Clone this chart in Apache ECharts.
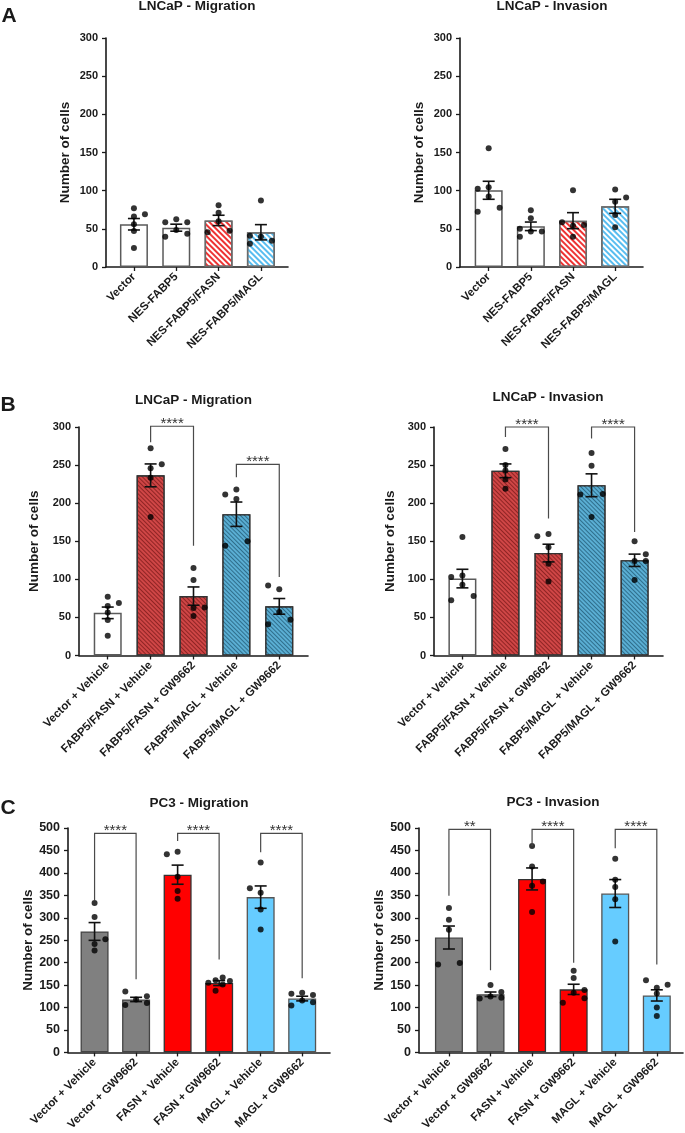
<!DOCTYPE html>
<html><head><meta charset="utf-8">
<script src="https://cdn.jsdelivr.net/npm/echarts@6/dist/echarts.min.js"></script>
<style>html,body{margin:0;padding:0;background:#fff}#c{width:685px;height:1133px}</style>
</head><body><div id="c"></div>
<script>
// ---------------- DATA ----------------
const A_cats = ['Vector', 'NES-FABP5', 'NES-FABP5/FASN', 'NES-FABP5/MAGL'];
const A_mig_mean = [56, 51.5, 61, 45.5];
const A_mig_sem = [7.5, 4.6, 6.8, 10];
const A_mig_points = [[77, 69, 66, 56, 47, 25], [58.5, 62.5, 58.5, 48.5, 39.5, 43.5], [81, 71, 60, 45.5, 47.5], [87, 41, 39.5, 30.5, 34.5]];
const A_inv_mean = [100.5, 53.3, 60.7, 79.5];
const A_inv_sem = [11.8, 5.6, 10.5, 9.2];
const A_inv_points = [[155.5, 102.5, 104.5, 92.5, 77.5, 72.5], [74.5, 64, 50, 46.5, 46.5, 39.5], [100.5, 58.5, 54, 55, 39.5], [101.5, 91, 85.5, 68, 52]];

const B_cats = ['Vector + Vehicle', 'FABP5/FASN + Vehicle', 'FABP5/FASN + GW9662', 'FABP5/MAGL + Vehicle', 'FABP5/MAGL + GW9662'];
const B_mig_mean = [56, 236.5, 78, 185.5, 64.5];
const B_mig_sem = [7.6, 15, 12, 16, 10.3];
const B_mig_points = [[77, 69, 65, 56.5, 46.5, 26], [272, 251, 246, 233.5, 182], [115, 99, 62.5, 63, 52], [211.5, 218, 205.5, 144, 150], [92, 87, 57, 41, 47]];
const B_inv_mean = [101, 242.5, 134.5, 223.5, 125];
const B_inv_sem = [12.2, 9, 11.6, 15, 8.1];
const B_inv_points = [[155.5, 103, 105, 93, 78, 72.5], [271, 250, 243, 231, 219], [156.5, 159.5, 142, 120.5, 97], [266, 249, 211.5, 212, 182], [150, 133, 124, 124, 99]];

const C_cats = ['Vector + Vehicle', 'Vector + GW9662', 'FASN + Vehicle', 'FASN + GW9662', 'MAGL + Vehicle', 'MAGL + GW9662'];
const C_mig_mean = [269.5, 118, 396, 154.5, 346, 120];
const C_mig_sem = [19.8, 4.8, 21.3, 5.5, 24.9, 5.2];
const C_mig_points = [[333, 301.5, 252, 241.5, 227], [136, 118, 125, 105.5, 110], [441.5, 447, 391.5, 359.5, 342.5], [155, 161, 167, 159, 151.5, 137.5], [423, 366, 356, 318.5, 274], [130.5, 133, 128, 115.5, 104.5, 112]];
const C_inv_mean = [256, 129.5, 386.5, 140.5, 354, 127];
const C_inv_sem = [25.6, 5.1, 24.5, 11.4, 31.1, 12.5];
const C_inv_points = [[321.5, 295.5, 273.5, 196, 199.5], [150, 134.5, 120, 124.5, 122], [460, 414.5, 381, 371.5, 313], [182, 166, 139, 133, 110.5, 120.5], [431.5, 384.5, 368.5, 341.5, 247], [161, 150.5, 144, 131, 100, 81]];

// significance brackets: [fromIndex, toIndex, bracketTop, leftLegEnd, rightLegEnd]
const B_mig_sig = [[1, 2, 301, 280, 144], [3, 4, 251, 234, 103]];
const B_mig_sigLabels = ['****', '****'];
const B_inv_sig = [[1, 2, 300, 287, 180], [3, 4, 300, 285, 162]];
const B_inv_sigLabels = ['****', '****'];
const C_mig_sig = [[0, 1, 488, 339, 163], [2, 3, 488, 471, 207], [4, 5, 488, 446, 165]];
const C_mig_sigLabels = ['****', '****', '****'];
const C_inv_sig = [[0, 1, 497, 349, 183], [2, 3, 497, 460, 200], [4, 5, 497, 455, 196]];
const C_inv_sigLabels = ['**', '****', '****'];

// ---------------- LAYOUT / STYLE ----------------
// horizontal scatter spread of dots (in dot-slot units)
const A_mig_spread = [[0, 1, 0, 0, 0, 0], [-1, 0, 1, 0, -1, 1], [0, 0, 0, -1, 1], [0, -1, 0, -1, 1]];
const A_inv_spread = [[0, -1, 0, 0, 1, -1], [0, 0, -1, 0, 1, -1], [0, -1, 0, 1, 0], [0, 1, 0, 0, 0]];
const B_mig_spread = [[0, 1, 0, 0, 0, 0], [0, 1, 0, 0, 0], [0, 0, 0, 1, 0], [-1, 0, 0, -1, 1], [-1, 0, 0, -1, 1]];
const B_inv_spread = [[0, -1, 0, 0, 1, -1], [0, 0, 0, 0, 0], [-1, 0, 0, 0, 0], [0, 0, -1, 1, 0], [0, 1, 0, 1, 0]];
const C_mig_spread = [[0, 0, 1, 0, 0], [-1, 0, 1, -1, 1], [-1, 0, 0, 0, 0], [-1, -0.33, 0.33, 1, 0.33, -0.33], [0, -1, 0, 0, 0], [-1, 0, 1, 0, -1, 1]];
const C_inv_spread = [[0, 0, 0, -1, 1], [0, 1, -1, 0, 1], [0, 0, 1, 0, 0], [0, 0, 1, 0, -1, 1], [0, 0, 0, 0, 0], [-1, 1, 0, 0, 0, 0]];

const FONT = '"Liberation Sans", Arial, Helvetica, sans-serif';
const INK = '#1a1a1a';
const STY = {
  white: { color: '#ffffff', borderColor: '#5a5a5a', borderWidth: 1.5 },
  hatchRed: { color: '#ffffff', borderColor: '#6a6a6a', borderWidth: 1.5,
    decal: { symbol: 'rect', symbolSize: 1, symbolKeepAspect: false, color: '#ee3434', dashArrayX: [1, 0], dashArrayY: [2, 2], rotation: Math.PI / 4 } },
  hatchBlue: { color: '#ffffff', borderColor: '#6a6a6a', borderWidth: 1.5,
    decal: { symbol: 'rect', symbolSize: 1, symbolKeepAspect: false, color: '#58bdf0', dashArrayX: [1, 0], dashArrayY: [2, 2], rotation: Math.PI / 4 } },
  darkRed: { color: '#8f2424', borderColor: '#333333', borderWidth: 1.3,
    decal: { symbol: 'rect', symbolSize: 1, symbolKeepAspect: false, color: '#cf4646', dashArrayX: [1, 0], dashArrayY: [2, 1], rotation: Math.PI / 4 } },
  darkBlue: { color: '#2f6e8c', borderColor: '#333333', borderWidth: 1.3,
    decal: { symbol: 'rect', symbolSize: 1, symbolKeepAspect: false, color: '#5aaed3', dashArrayX: [1, 0], dashArrayY: [2, 1], rotation: Math.PI / 4 } },
  gray: { color: '#808080', borderColor: '#444444', borderWidth: 1.3 },
  red: { color: '#ff0000', borderColor: '#333333', borderWidth: 1.3 },
  sky: { color: '#66ccff', borderColor: '#555555', borderWidth: 1.3 }
};
const A_fill = ['white', 'white', 'hatchRed', 'hatchBlue'];
const B_fill = ['white', 'darkRed', 'darkRed', 'darkBlue', 'darkBlue'];
const C_fill = ['gray', 'gray', 'red', 'red', 'sky', 'sky'];

const panels = [
  { title: 'LNCaP - Migration', cats: A_cats, mean: A_mig_mean, sem: A_mig_sem, pts: A_mig_points, spread: A_mig_spread, fill: A_fill,
    sig: [], sigLab: [], grid: { left: 106, top: 38, width: 182, height: 229 }, xr: [-0.66, 3.64], ymax: 300, yfs: 11, gap: 34, tx: 197, ty: 6 },
  { title: 'LNCaP - Invasion', cats: A_cats, mean: A_inv_mean, sem: A_inv_sem, pts: A_inv_points, spread: A_inv_spread, fill: A_fill,
    sig: [], sigLab: [], grid: { left: 460, top: 38, width: 183, height: 229 }, xr: [-0.68, 3.66], ymax: 300, yfs: 11, gap: 34, tx: 552, ty: 6 },
  { title: 'LNCaP - Migration', cats: B_cats, mean: B_mig_mean, sem: B_mig_sem, pts: B_mig_points, spread: B_mig_spread, fill: B_fill,
    sig: B_mig_sig, sigLab: B_mig_sigLabels, grid: { left: 79, top: 427, width: 229, height: 228.5 }, xr: [-0.67, 4.67], ymax: 300, yfs: 11, gap: 38, tx: 193.5, ty: 400 },
  { title: 'LNCaP - Invasion', cats: B_cats, mean: B_inv_mean, sem: B_inv_sem, pts: B_inv_points, spread: B_inv_spread, fill: B_fill,
    sig: B_inv_sig, sigLab: B_inv_sigLabels, grid: { left: 434, top: 427, width: 229, height: 228.5 }, xr: [-0.66, 4.66], ymax: 300, yfs: 11, gap: 37, tx: 548, ty: 397 },
  { title: 'PC3 - Migration', cats: C_cats, mean: C_mig_mean, sem: C_mig_sem, pts: C_mig_points, spread: C_mig_spread, fill: C_fill,
    sig: C_mig_sig, sigLab: C_mig_sigLabels, grid: { left: 68, top: 828, width: 262, height: 228 }, xr: [-0.64, 5.67], ymax: 500, yfs: 12.5, gap: 33, tx: 199, ty: 803 },
  { title: 'PC3 - Invasion', cats: C_cats, mean: C_inv_mean, sem: C_inv_sem, pts: C_inv_points, spread: C_inv_spread, fill: C_fill,
    sig: C_inv_sig, sigLab: C_inv_sigLabels, grid: { left: 419, top: 828, width: 264, height: 228 }, xr: [-0.72, 5.63], ymax: 500, yfs: 12.5, gap: 30, tx: 553, ty: 802 }
];

const SLOT = 0.26;   // dot slot width in category units
const CAP = 6;       // error-bar cap half width, px

const option = {
  animation: false,
  backgroundColor: '#ffffff',
  grid: [], xAxis: [], yAxis: [], series: [],
  graphic: []
};

panels.forEach((p, gi) => {
  option.grid.push(Object.assign({ containLabel: false }, p.grid));
  const idx = p.cats.map((_, i) => i);
  option.xAxis.push({
    type: 'value', gridIndex: gi, min: p.xr[0], max: p.xr[1],
    splitLine: { show: false },
    axisLine: { show: true, onZero: false, lineStyle: { color: INK, width: 1.6 } },
    axisTick: { show: true, customValues: idx, length: 4, lineStyle: { color: INK, width: 1.3 } },
    axisLabel: { show: true, customValues: idx, rotate: 45, margin: 8, formatter: v => p.cats[Math.round(v)] || '',
      fontFamily: FONT, fontSize: 11.5, fontWeight: 'bold', color: INK }
  });
  option.yAxis.push({
    type: 'value', gridIndex: gi, min: 0, max: p.ymax, interval: 50,
    splitLine: { show: false },
    axisLine: { show: true, onZero: false, lineStyle: { color: INK, width: 1.6 } },
    axisTick: { show: true, length: 4, lineStyle: { color: INK, width: 1.3 } },
    axisLabel: { margin: 8, fontFamily: FONT, fontSize: p.yfs, fontWeight: 'bold', color: INK },
    name: 'Number of cells', nameLocation: 'middle', nameGap: p.gap,
    nameTextStyle: { fontFamily: FONT, fontSize: 13.5, fontWeight: 'bold', color: INK }
  });
  // bars
  option.series.push({
    type: 'bar', xAxisIndex: gi, yAxisIndex: gi, barWidth: 28,
    data: p.mean.map((m, i) => ({ value: [i, m], itemStyle: STY[p.fill[i]] })),
    z: 2
  });
  // error bars
  option.series.push({
    type: 'custom', xAxisIndex: gi, yAxisIndex: gi, z: 3,
    data: p.mean.map((m, i) => [i, m, p.sem[i]]),
    encode: { x: 0, y: 1 },
    renderItem: (params, api) => {
      const x = api.value(0), m = api.value(1), s = api.value(2);
      const hi = api.coord([x, m + s]), lo = api.coord([x, m - s]);
      const st = { stroke: '#111', lineWidth: 1.6 };
      return { type: 'group', children: [
        { type: 'line', shape: { x1: hi[0], y1: hi[1], x2: lo[0], y2: lo[1] }, style: st },
        { type: 'line', shape: { x1: hi[0] - CAP, y1: hi[1], x2: hi[0] + CAP, y2: hi[1] }, style: st },
        { type: 'line', shape: { x1: lo[0] - CAP, y1: lo[1], x2: lo[0] + CAP, y2: lo[1] }, style: st }
      ] };
    }
  });
  // dots
  const dots = [];
  p.pts.forEach((arr, i) => arr.forEach((v, j) => dots.push([i + p.spread[i][j] * SLOT, v])));
  option.series.push({
    type: 'scatter', xAxisIndex: gi, yAxisIndex: gi, z: 4, symbol: 'circle', symbolSize: 6,
    itemStyle: { color: '#000' }, data: dots
  });
  // significance brackets
  if (p.sig.length) {
    option.series.push({
      type: 'custom', xAxisIndex: gi, yAxisIndex: gi, z: 5, clip: false,
      data: p.sig, encode: { x: [0, 1], y: [2, 3, 4] },
      renderItem: (params, api) => {
        const a = api.value(0), b = api.value(1), top = api.value(2), l = api.value(3), r = api.value(4);
        const p1 = api.coord([a, l]), p2 = api.coord([a, top]), p3 = api.coord([b, top]), p4 = api.coord([b, r]);
        return { type: 'group', children: [
          { type: 'polyline', shape: { points: [p1, p2, p3, p4] }, style: { stroke: '#4a4a4a', lineWidth: 1.2, fill: null } },
          { type: 'text', x: (p2[0] + p3[0]) / 2, y: p2[1] + 5,
            style: { text: p.sigLab[params.dataIndex], align: 'center', verticalAlign: 'bottom', textAlign: 'center', textVerticalAlign: 'bottom',
              font: '15px ' + FONT, fill: '#333' } }
        ] };
      }
    });
  }
  option.graphic.push({ type: 'text', x: p.tx, y: p.ty,
    style: { text: p.title, align: 'center', verticalAlign: 'middle', textAlign: 'center', textVerticalAlign: 'middle',
      font: 'bold 13.5px ' + FONT, fill: INK } });
});

[['A', 9, 16], ['B', 8, 405], ['C', 8, 808]].forEach(([t, x, y]) => {
  option.graphic.push({ type: 'text', x, y,
    style: { text: t, align: 'center', verticalAlign: 'middle', textAlign: 'center', textVerticalAlign: 'middle',
      font: 'bold 21px ' + FONT, fill: INK } });
});

const chart = echarts.init(document.getElementById('c'), null, { renderer: 'canvas' });
chart.setOption(option);
</script>
</body></html>
